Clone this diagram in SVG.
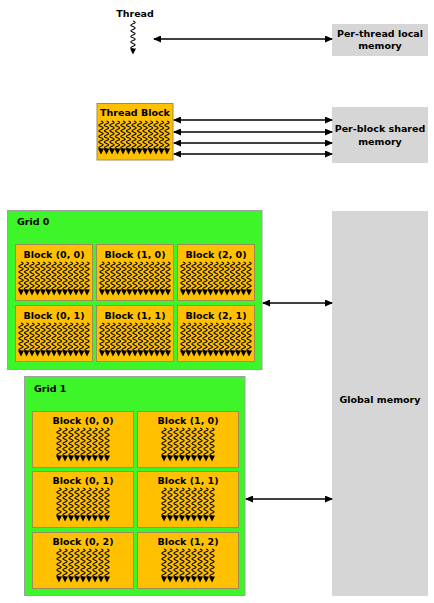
<svg xmlns="http://www.w3.org/2000/svg" xmlns:xlink="http://www.w3.org/1999/xlink" width="434" height="603" viewBox="0 0 434 603">
<style>
text{font-family:"DejaVu Sans","Liberation Sans",sans-serif;font-weight:bold;font-size:9.5px;fill:#000}
.c{text-anchor:middle}
.blk{fill:#FFC000;stroke:#A08C5A;stroke-width:1}
.grid{fill:#3EF52A;stroke:#A0A0A0;stroke-width:1}
.mem{fill:#D6D6D6;stroke:none}
.conn{stroke:#000;stroke-width:1.3;fill:none;marker-start:url(#ah);marker-end:url(#ah)}
.w{fill:none;stroke:#000;stroke-width:1.1}
</style>
<defs>
<marker id="ah" markerUnits="userSpaceOnUse" markerWidth="8" markerHeight="7" refX="7" refY="3.5" orient="auto-start-reverse">
<path d="M0,0 L8,3.5 L0,7 z" fill="#000"/>
</marker>
<g id="thr">
<path class="w" d="M0,0 q4.4,1.4 0,2.8 q-4.4,1.4 0,2.8 q4.4,1.4 0,2.8 q-4.4,1.4 0,2.8 q4.4,1.4 0,2.8 q-4.4,1.4 0,2.8 q4.4,1.4 0,2.8 q-4.4,1.4 0,2.8 q4.4,1.4 0,2.8 q-4.4,1.4 0,2.8"/>
<polygon points="-3,27.5 3,27.5 0,33.5" fill="#000"/>
</g>
<g id="t13">
<use xlink:href="#thr" x="0"/><use xlink:href="#thr" x="5.5"/><use xlink:href="#thr" x="11"/><use xlink:href="#thr" x="16.5"/><use xlink:href="#thr" x="22"/><use xlink:href="#thr" x="27.5"/><use xlink:href="#thr" x="33"/><use xlink:href="#thr" x="38.5"/><use xlink:href="#thr" x="44"/><use xlink:href="#thr" x="49.5"/><use xlink:href="#thr" x="55"/><use xlink:href="#thr" x="60.5"/><use xlink:href="#thr" x="66"/>
</g>
<g id="t9">
<use xlink:href="#thr" x="0"/><use xlink:href="#thr" x="6"/><use xlink:href="#thr" x="12"/><use xlink:href="#thr" x="18"/><use xlink:href="#thr" x="24"/><use xlink:href="#thr" x="30"/><use xlink:href="#thr" x="36"/><use xlink:href="#thr" x="42"/><use xlink:href="#thr" x="48"/>
</g>
</defs>
<rect width="434" height="603" fill="#fff"/>

<g id="thread">
<text class="c" x="135" y="17">Thread</text>
<use xlink:href="#thr" x="133" y="21"/>
</g>

<g id="thread-block">
<rect class="blk" x="97" y="103.5" width="76" height="56.5"/>
<text class="c" x="135" y="116">Thread Block</text>
<use xlink:href="#t13" x="101" y="121"/>
</g>

<g id="per-thread-local-memory">
<rect class="mem" x="332" y="24" width="96" height="32"/>
<text class="c" x="380" y="37">Per-thread local</text>
<text class="c" x="380" y="49">memory</text>
</g>

<g id="per-block-shared-memory">
<rect class="mem" x="332" y="107" width="96" height="56"/>
<text class="c" x="380" y="132">Per-block shared</text>
<text class="c" x="380" y="144.5">memory</text>
</g>

<g id="global-memory">
<rect class="mem" x="332" y="211" width="96" height="385"/>
<text class="c" x="380" y="403">Global memory</text>
</g>

<g id="grid0">
<rect class="grid" x="7.5" y="210.5" width="254.5" height="159"/>
<text x="17" y="225">Grid 0</text>
<g id="g0-b00"><rect class="blk" x="15.5" y="244.5" width="77" height="56"/><text class="c" x="54" y="258">Block (0, 0)</text><use xlink:href="#t13" x="21" y="262"/></g>
<g id="g0-b10"><rect class="blk" x="96.5" y="244.5" width="77" height="56"/><text class="c" x="135" y="258">Block (1, 0)</text><use xlink:href="#t13" x="102" y="262"/></g>
<g id="g0-b20"><rect class="blk" x="177.5" y="244.5" width="77" height="56"/><text class="c" x="216" y="258">Block (2, 0)</text><use xlink:href="#t13" x="183" y="262"/></g>
<g id="g0-b01"><rect class="blk" x="15.5" y="305.5" width="77" height="56"/><text class="c" x="54" y="319">Block (0, 1)</text><use xlink:href="#t13" x="21" y="323"/></g>
<g id="g0-b11"><rect class="blk" x="96.5" y="305.5" width="77" height="56"/><text class="c" x="135" y="319">Block (1, 1)</text><use xlink:href="#t13" x="102" y="323"/></g>
<g id="g0-b21"><rect class="blk" x="177.5" y="305.5" width="77" height="56"/><text class="c" x="216" y="319">Block (2, 1)</text><use xlink:href="#t13" x="183" y="323"/></g>
</g>

<g id="grid1">
<rect class="grid" x="24.5" y="376.5" width="220.5" height="219"/>
<text x="34" y="392">Grid 1</text>
<g id="g1-b00"><rect class="blk" x="32.5" y="411.5" width="101" height="56"/><text class="c" x="83" y="424">Block (0, 0)</text><use xlink:href="#t9" x="59" y="428"/></g>
<g id="g1-b10"><rect class="blk" x="137.5" y="411.5" width="101" height="56"/><text class="c" x="188" y="424">Block (1, 0)</text><use xlink:href="#t9" x="164" y="428"/></g>
<g id="g1-b01"><rect class="blk" x="32.5" y="471.5" width="101" height="56"/><text class="c" x="83" y="484">Block (0, 1)</text><use xlink:href="#t9" x="59" y="488"/></g>
<g id="g1-b11"><rect class="blk" x="137.5" y="471.5" width="101" height="56"/><text class="c" x="188" y="484">Block (1, 1)</text><use xlink:href="#t9" x="164" y="488"/></g>
<g id="g1-b02"><rect class="blk" x="32.5" y="532.5" width="101" height="56"/><text class="c" x="83" y="545">Block (0, 2)</text><use xlink:href="#t9" x="59" y="549"/></g>
<g id="g1-b12"><rect class="blk" x="137.5" y="532.5" width="101" height="56"/><text class="c" x="188" y="545">Block (1, 2)</text><use xlink:href="#t9" x="164" y="549"/></g>
</g>

<g id="connectors">
<line class="conn" x1="154" y1="39" x2="332" y2="39"/>
<line class="conn" x1="174" y1="120" x2="332" y2="120"/>
<line class="conn" x1="174" y1="132" x2="332" y2="132"/>
<line class="conn" x1="174" y1="143" x2="332" y2="143"/>
<line class="conn" x1="174" y1="154" x2="332" y2="154"/>
<line class="conn" x1="263" y1="303" x2="332" y2="303"/>
<line class="conn" x1="246" y1="499" x2="332" y2="499"/>
</g>
</svg>
